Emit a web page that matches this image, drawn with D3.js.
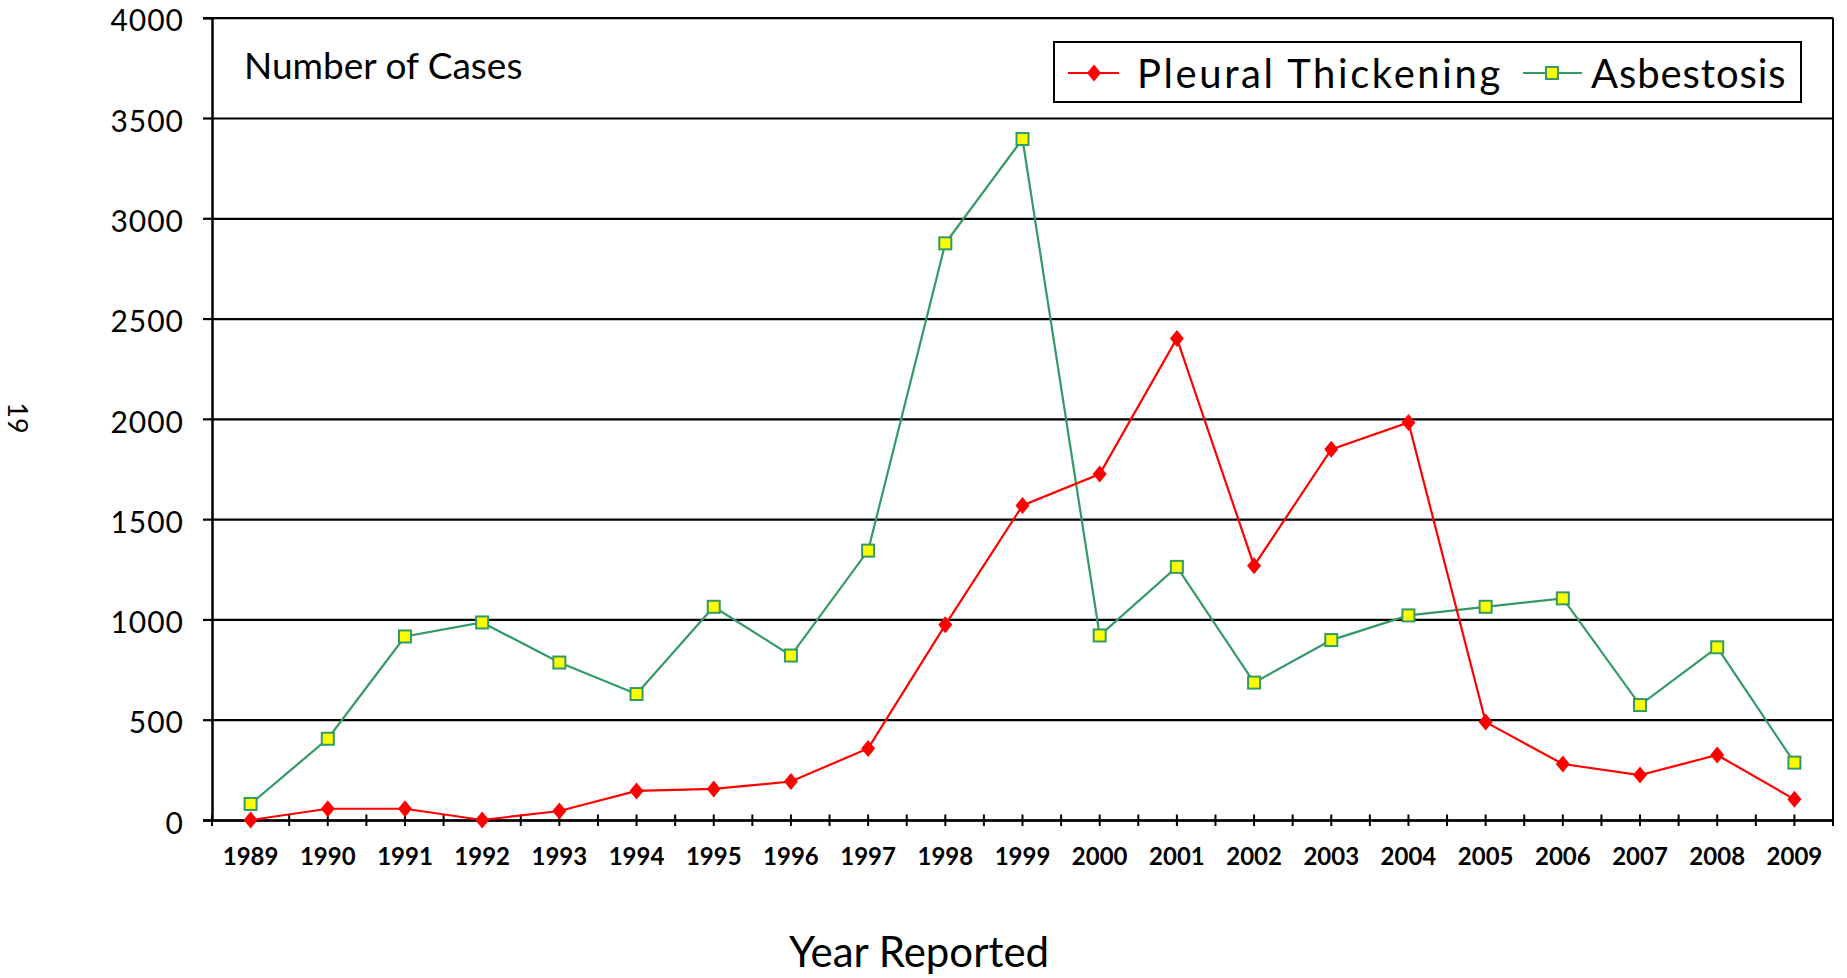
<!DOCTYPE html>
<html>
<head>
<meta charset="utf-8">
<script src="https://cdn.jsdelivr.net/npm/d3@7"></script>
<style>
  html, body { margin: 0; padding: 0; background: #fff; }
  svg { display: block; font-family: Lato, "Open Sans", sans-serif; }
</style>
</head>
<body>
<svg id="chart" width="1847" height="978"></svg>
<script>
const years = ["1989","1990","1991","1992","1993","1994","1995","1996","1997","1998","1999","2000","2001","2002","2003","2004","2005","2006","2007","2008","2009"];
const pleuralThickening = [0, 56, 56, 0, 45, 145, 155, 192, 357, 973, 1568, 1725, 2401, 1268, 1848, 1982, 488, 279, 224, 324, 103];
const asbestosis = [80, 405, 915, 985, 785, 628, 1063, 820, 1343, 2875, 3395, 920, 1262, 685, 897, 1020, 1063, 1105, 573, 861, 286];
const yTicks = [0, 500, 1000, 1500, 2000, 2500, 3000, 3500, 4000];
const seriesNames = ["Pleural Thickening", "Asbestosis"];

(function () {
const svg = d3.select("#chart");
const pLeft = 212, pRight = 1833, pTop = 17.7, pBottom = 820;

const x = d3.scaleBand().domain(years).range([pLeft, pRight]).padding(0);
const y = d3.scaleLinear().domain([0, 4000]).range([pBottom, pTop]);
const cx = d => x(d) + x.bandwidth() / 2;

// gridlines
svg.append("g")
  .attr("transform", `translate(${pLeft},0)`)
  .call(d3.axisLeft(y).tickValues(yTicks).tickSize(-(pRight - pLeft)).tickFormat(""))
  .call(g => g.select(".domain").remove())
  .call(g => g.selectAll("line").attr("stroke", "#000").attr("stroke-width", 2.2));

// right border
svg.append("line").attr("x1", pRight).attr("x2", pRight).attr("y1", y(4000)).attr("y2", y(0))
  .attr("stroke", "#000").attr("stroke-width", 2);

// y axis
const yAxis = svg.append("g")
  .attr("transform", `translate(${pLeft},0)`)
  .call(d3.axisLeft(y).tickValues(yTicks).tickSize(9).tickPadding(19).tickFormat(d3.format("d")));
yAxis.select(".domain").attr("stroke", "#000").attr("stroke-width", 2.5);
yAxis.selectAll(".tick line").attr("stroke", "#000").attr("stroke-width", 2.2);
yAxis.selectAll(".tick text").attr("font-size", 30).attr("letter-spacing", 1).attr("dy", "0.44em")
  .attr("fill", "#000").attr("font-family", "Lato, sans-serif");

// x axis
const xAxis = svg.append("g")
  .attr("transform", `translate(0,${pBottom})`)
  .call(d3.axisBottom(x).tickSize(0).tickPadding(28));
xAxis.select(".domain").attr("stroke", "#000").attr("stroke-width", 2.5);
xAxis.selectAll(".tick text").attr("font-size", 24).attr("font-weight", "bold").attr("fill", "#000")
  .attr("font-family", "Lato, sans-serif");

// x tick marks at category edges and centres
const tickPos = [];
years.forEach(d => { tickPos.push(x(d)); tickPos.push(cx(d)); });
tickPos.push(x(years[years.length - 1]) + x.bandwidth());
svg.append("g").selectAll("line").data(tickPos).join("line")
  .attr("x1", d => d).attr("x2", d => d)
  .attr("y1", pBottom - 5.5).attr("y2", pBottom + 6)
  .attr("stroke", "#000").attr("stroke-width", 2);

const line = d3.line().x((d, i) => cx(years[i])).y(d => y(d));

// Asbestosis
svg.append("path").datum(asbestosis).attr("d", line)
  .attr("fill", "none").attr("stroke", "#339966").attr("stroke-width", 2.2);
svg.append("g").selectAll("rect").data(asbestosis).join("rect")
  .attr("x", (d, i) => cx(years[i]) - 6).attr("y", d => y(d) - 6)
  .attr("width", 12).attr("height", 12)
  .attr("fill", "#ffff00").attr("stroke", "#339966").attr("stroke-width", 2);

// Pleural thickening
svg.append("path").datum(pleuralThickening).attr("d", line)
  .attr("fill", "none").attr("stroke", "#ff0000").attr("stroke-width", 2.2);
const diamond = "M0,-8.5L7,0L0,8.5L-7,0Z";
svg.append("g").selectAll("path").data(pleuralThickening).join("path")
  .attr("d", diamond)
  .attr("transform", (d, i) => `translate(${cx(years[i])},${y(d)})`)
  .attr("fill", "#ff0000");

// inside label
svg.append("text").attr("x", 244).attr("y", 79).attr("font-size", 37).attr("fill", "#000")
  .text("Number of Cases");

// legend
const lg = svg.append("g");
lg.append("rect").attr("x", 1054).attr("y", 42).attr("width", 747).attr("height", 60)
  .attr("fill", "#fff").attr("stroke", "#000").attr("stroke-width", 2);
lg.append("line").attr("x1", 1068).attr("x2", 1119).attr("y1", 73).attr("y2", 73)
  .attr("stroke", "#ff0000").attr("stroke-width", 2.2);
lg.append("path").attr("d", diamond).attr("transform", "translate(1094,73)").attr("fill", "#ff0000");
lg.append("text").attr("x", 1137).attr("y", 88).attr("font-size", 40).attr("letter-spacing", 2.6)
  .attr("fill", "#000").text(seriesNames[0]);
lg.append("line").attr("x1", 1523).attr("x2", 1582).attr("y1", 73).attr("y2", 73)
  .attr("stroke", "#339966").attr("stroke-width", 2.2);
lg.append("rect").attr("x", 1546).attr("y", 67).attr("width", 12).attr("height", 12)
  .attr("fill", "#ffff00").attr("stroke", "#339966").attr("stroke-width", 2);
lg.append("text").attr("x", 1591).attr("y", 88).attr("font-size", 40).attr("letter-spacing", 0.9)
  .attr("fill", "#000").text(seriesNames[1]);

// x axis title
svg.append("text").attr("x", 919).attr("y", 967).attr("text-anchor", "middle")
  .attr("font-size", 42).attr("fill", "#000").text("Year Reported");

// page number
svg.append("text").attr("transform", "translate(8,418) rotate(90)").attr("text-anchor", "middle")
  .attr("font-size", 27).attr("fill", "#000").text("19");
})();
</script>
</body>
</html>
